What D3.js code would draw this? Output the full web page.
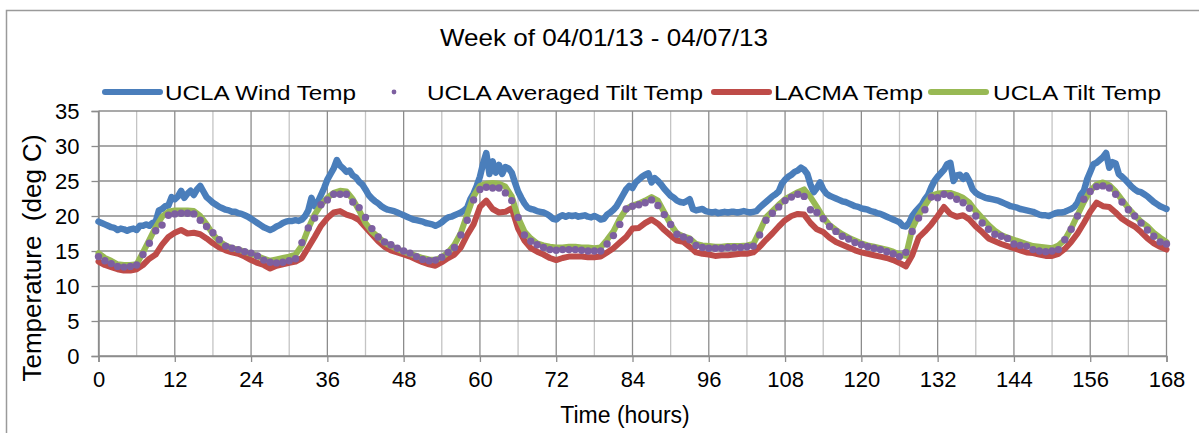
<!DOCTYPE html>
<html><head><meta charset="utf-8">
<script src="https://cdn.jsdelivr.net/npm/d3@7"></script>
<style>
body{margin:0;background:#fff}
svg{display:block}
text{font-family:"Liberation Sans",Arial,Helvetica,sans-serif;fill:#000}
</style>
</head><body>
<svg id="chart" width="1199" height="433"></svg>
<script>
// ---------------- data ----------------
const chartTitle = "Week of 04/01/13 - 04/07/13";
const xTitle = "Time (hours)";
const yTitle = "Temperature  (deg C)";
const seriesNames = ["UCLA Wind Temp", "UCLA Averaged Tilt Temp", "LACMA Temp", "UCLA Tilt Temp"];
const xTicks = [0, 12, 24, 36, 48, 60, 72, 84, 96, 108, 120, 132, 144, 156, 168];
const xMinorTicks = [6, 18, 30, 42, 54, 66, 78, 90, 102, 114, 126, 138, 150, 162];
const yTicks = [0, 5, 10, 15, 20, 25, 30, 35];

// UCLA Wind Temp, every 0.5 h from 0 to 168
const windStepHours = 0.5;
const uclaWindTemp = [
  19.2,19.0,18.8,18.6,18.4,18.3,18.0,18.2,18.1,17.9,18.1,18.2,18.0,18.6,18.6,18.8,18.6,19.0,19.2,20.8,
  21.0,21.4,21.5,22.7,22.4,22.8,23.6,22.6,23.2,23.6,23.0,23.8,24.3,23.5,22.7,22.3,21.9,21.6,21.3,21.1,
  20.9,20.8,20.6,20.6,20.4,20.3,20.1,19.9,19.6,19.3,19.0,18.7,18.4,18.2,18.0,18.2,18.5,18.7,19.0,19.2,
  19.3,19.3,19.4,19.3,19.5,20.0,20.8,22.6,21.4,22.0,23.0,24.0,25.2,26.0,26.8,28.0,27.2,26.8,26.3,26.5,
  25.8,25.5,24.9,24.5,23.8,23.0,22.5,22.1,21.8,21.4,21.1,20.9,20.8,20.7,20.5,20.3,20.1,19.9,19.7,19.5,
  19.4,19.3,19.2,19.0,18.9,18.8,18.6,18.8,19.1,19.5,19.8,19.9,20.1,20.3,20.5,20.8,21.2,22.4,23.2,24.3,
  25.6,27.5,29.0,26.0,27.8,26.2,27.3,26.0,27.0,26.8,26.2,24.8,23.5,22.6,21.8,21.2,21.0,20.9,20.7,20.6,
  20.5,20.3,20.0,19.6,19.5,19.9,20.1,19.9,20.1,20.0,20.1,19.9,20.0,20.1,19.9,19.8,20.0,19.8,19.5,19.6,
  20.2,20.5,20.9,21.4,22.2,23.0,23.8,24.3,24.0,24.8,25.2,25.6,25.9,26.1,24.8,25.4,25.0,24.5,23.9,23.4,
  22.9,22.6,22.2,22.0,21.9,22.1,22.4,21.0,20.8,20.9,21.0,20.7,20.6,20.5,20.6,20.4,20.5,20.6,20.5,20.6,
  20.6,20.5,20.6,20.7,20.6,20.5,20.6,20.7,21.2,21.6,22.0,22.4,22.8,23.1,23.5,24.6,25.2,25.6,25.9,26.3,
  26.5,26.9,26.6,26.0,24.5,23.4,24.0,24.8,23.8,23.2,22.9,22.7,22.5,22.3,22.1,22.0,21.8,21.6,21.4,21.3,
  21.1,21.0,20.9,20.7,20.6,20.4,20.3,20.1,19.9,19.7,19.5,19.3,19.1,18.6,18.5,19.0,20.0,20.6,21.1,21.6,
  22.4,23.0,24.1,25.0,25.6,26.1,26.6,27.4,27.6,25.0,25.8,25.9,25.3,25.8,25.0,23.8,23.3,23.0,22.8,22.6,
  22.5,22.4,22.3,22.2,22.0,21.8,21.6,21.4,21.3,21.2,21.0,20.9,20.8,20.7,20.6,20.4,20.2,20.1,20.1,20.0,
  20.2,20.4,20.5,20.5,20.6,20.8,21.0,21.3,21.9,23.0,23.6,25.2,26.3,27.4,27.6,28.0,28.4,29.0,26.9,27.7,
  27.5,26.0,25.6,25.2,24.7,24.2,23.8,23.5,23.4,23.1,22.8,22.4,22.0,21.7,21.4,21.2,21.0
];

// hourly series, 0 .. 168 h
const hourlyStepHours = 1;
const uclaAvgTiltTemp = [
  14.2,13.6,13.2,12.8,12.7,12.8,13.0,14.5,16.1,17.9,
  18.7,20.1,20.3,20.4,20.4,20.3,19.4,18.5,17.6,16.6,
  15.7,15.4,15.2,14.9,14.7,14.3,13.7,13.4,13.3,13.4,
  13.6,13.9,16.2,18.3,19.7,21.6,22.3,23.1,23.1,23.1,
  22.0,21.2,19.8,18.2,17.0,16.3,15.9,15.4,15.0,14.7,
  14.2,13.8,13.6,13.7,14.1,14.8,15.5,17.3,19.4,22.3,
  23.8,24.1,24.0,24.0,23.3,22.2,19.8,17.3,16.4,15.9,
  15.5,15.2,15.1,15.2,15.2,15.2,15.1,15.0,15.0,15.0,
  16.0,17.2,18.8,21.0,21.4,21.6,21.9,22.3,21.5,20.2,
  18.8,17.4,17.0,16.6,15.8,15.5,15.4,15.4,15.4,15.5,
  15.5,15.5,15.6,15.7,17.3,19.4,20.4,21.3,22.2,22.7,
  23.1,22.8,20.9,20.5,19.6,18.5,17.8,17.1,16.7,16.2,
  15.9,15.6,15.4,15.2,14.9,14.6,14.2,14.8,17.8,19.7,
  20.9,22.7,22.6,23.1,22.9,22.4,21.9,21.1,20.0,19.0,
  18.1,17.4,17.1,16.8,16.0,15.8,15.7,15.2,15.0,14.9,
  15.0,15.2,16.6,18.1,20.0,22.4,23.5,24.2,24.3,24.0,
  23.1,22.0,20.9,20.0,19.0,18.0,17.1,16.3,16.0
];
const lacmaTemp = [
  13.5,13.0,12.7,12.4,12.2,12.2,12.4,13.0,13.9,14.5,
  15.9,17.0,17.6,18.0,17.5,17.6,17.4,16.8,16.1,15.5,
  15.1,14.8,14.6,14.2,13.7,13.3,13.0,12.5,12.9,13.1,
  13.3,13.5,14.0,15.5,17.0,18.6,19.7,20.5,20.7,20.2,
  19.9,19.4,18.4,17.4,16.4,15.6,15.1,14.8,14.5,14.2,
  13.8,13.4,13.1,12.9,13.4,14.0,14.5,15.5,17.3,18.8,
  21.3,22.2,21.0,20.5,20.6,21.1,18.2,16.5,15.4,14.9,
  14.5,14.0,13.7,14.0,14.2,14.2,14.2,14.1,14.1,14.2,
  14.8,15.4,16.2,17.0,18.2,18.3,19.0,19.5,18.9,18.0,
  17.2,16.5,16.3,15.6,14.8,14.6,14.5,14.3,14.4,14.4,
  14.5,14.6,14.6,14.8,15.6,16.6,17.5,18.5,19.4,20.0,
  20.3,20.2,19.0,18.1,17.7,16.9,16.3,15.9,15.5,15.1,
  14.8,14.6,14.4,14.2,14.0,13.7,13.3,12.8,14.4,16.9,
  17.8,18.8,20.0,21.3,20.3,19.9,20.1,19.5,18.5,17.7,
  16.8,16.4,16.0,15.7,15.4,15.1,14.8,14.7,14.5,14.3,
  14.3,14.6,15.3,16.3,17.5,19.0,20.6,21.9,21.4,21.3,
  20.5,19.6,19.0,18.5,17.7,16.8,16.1,15.6,15.2
];
const uclaTiltTemp = [
  14.7,14.0,13.6,13.1,13.0,13.0,13.1,14.8,16.6,18.4,
  19.9,20.6,20.8,20.8,20.8,20.7,20.0,18.8,17.4,16.4,
  15.8,15.4,15.2,14.9,14.6,14.3,13.9,13.6,13.8,14.0,
  14.2,14.5,15.8,18.2,20.2,21.6,22.6,23.3,23.6,23.5,
  22.4,20.8,19.0,17.8,17.0,16.2,15.7,15.3,14.9,14.6,
  14.3,14.0,13.8,13.7,14.1,14.8,15.9,17.6,20.2,22.8,
  24.3,24.6,24.7,24.6,24.2,22.8,19.8,17.8,16.8,16.1,
  15.8,15.6,15.5,15.5,15.6,15.6,15.5,15.5,15.4,15.5,
  16.6,17.8,19.6,21.0,21.5,21.8,22.2,22.7,22.2,20.5,
  18.8,17.5,17.1,16.8,16.0,15.8,15.7,15.6,15.6,15.7,
  15.7,15.7,15.8,16.0,17.8,19.8,20.7,21.6,22.4,22.9,
  23.4,23.8,22.7,21.3,19.8,18.7,18.0,17.4,16.9,16.5,
  16.1,15.8,15.6,15.4,15.2,14.9,14.5,14.3,18.2,20.1,
  21.5,22.9,23.2,23.3,23.3,23.0,22.6,21.9,20.7,19.7,
  18.7,17.9,17.3,16.9,16.6,16.3,16.0,15.7,15.6,15.5,
  15.4,15.8,16.6,18.2,20.1,22.0,23.6,24.5,24.8,24.4,
  23.5,22.3,21.1,20.1,19.2,18.5,17.6,16.9,16.3
];

// ---------------- drawing ----------------
const colors = {wind:"#4a7ebb", avg:"#7d5fa0", lacma:"#be4b48", tilt:"#98b954"};
const gridMajor = "#8c8c8c", gridMinor = "#c4c4c4";

const svg = d3.select("#chart");
const plot = {left: 98.5, right: 1166.5, top: 111, bottom: 356};

const x = d3.scaleLinear().domain([0, 168]).range([plot.left, plot.right]);
const y = d3.scaleLinear().domain([0, 35]).range([plot.bottom, plot.top]);

// outer chart border
svg.append("rect").attr("x", 6.5).attr("y", 10.5).attr("width", 1200).attr("height", 440)
  .attr("fill", "#fff").attr("stroke", "#9a9a9a").attr("stroke-width", 1.5);

// grid
const grid = svg.append("g");
grid.selectAll(".vminor").data(xMinorTicks).join("line")
  .attr("x1", d => x(d)).attr("x2", d => x(d)).attr("y1", plot.top).attr("y2", plot.bottom)
  .attr("stroke", gridMinor).attr("stroke-width", 1.3);
grid.selectAll(".vmajor").data(xTicks).join("line")
  .attr("x1", d => x(d)).attr("x2", d => x(d)).attr("y1", plot.top).attr("y2", plot.bottom)
  .attr("stroke", gridMajor).attr("stroke-width", 1.3);
grid.selectAll(".hmajor").data(yTicks).join("line")
  .attr("x1", plot.left).attr("x2", plot.right).attr("y1", d => y(d)).attr("y2", d => y(d))
  .attr("stroke", gridMajor).attr("stroke-width", 1.3);

// axes
const xAxis = svg.append("g").attr("transform", `translate(0,${plot.bottom})`)
  .call(d3.axisBottom(x).tickValues(xTicks).tickSize(6).tickPadding(9).tickFormat(d3.format("d")));
const yAxis = svg.append("g").attr("transform", `translate(${plot.left},0)`)
  .call(d3.axisLeft(y).tickValues(yTicks).tickSize(7).tickPadding(12).tickFormat(d3.format("d")));
[xAxis, yAxis].forEach(a => {
  a.select(".domain").attr("stroke", gridMajor).attr("stroke-width", 1.5);
  a.selectAll(".tick line").attr("stroke", gridMajor).attr("stroke-width", 1.3);
  a.selectAll(".tick text").style("font-family", '"Liberation Sans",Arial,sans-serif')
    .style("font-size", "22px").attr("fill", "#000");
});
xAxis.selectAll(".tick text").attr("dy", "0.71em");

// series
const windPts = uclaWindTemp.map((v, i) => [i * windStepHours, v]);
const hourPts = arr => arr.map((v, i) => [i * hourlyStepHours, v]);
const line = d3.line().x(d => x(d[0])).y(d => y(d[1]));
const lineStyle = (p, c, w) => p.attr("fill", "none").attr("stroke", c).attr("stroke-width", w)
  .attr("stroke-linejoin", "round").attr("stroke-linecap", "round");

svg.append("path").datum(windPts).attr("d", line).call(lineStyle, colors.wind, 6.5);
svg.append("path").datum(hourPts(lacmaTemp)).attr("d", line).call(lineStyle, colors.lacma, 6);
svg.append("path").datum(hourPts(uclaTiltTemp)).attr("d", line).call(lineStyle, colors.tilt, 6);
svg.append("g").selectAll("circle").data(hourPts(uclaAvgTiltTemp)).join("circle")
  .attr("cx", d => x(d[0])).attr("cy", d => y(d[1])).attr("r", 3.7).attr("fill", colors.avg);

// title
svg.append("text").attr("x", 604).attr("y", 46).attr("text-anchor", "middle")
  .style("font-size", "24px").attr("textLength", 328).attr("lengthAdjust", "spacingAndGlyphs")
  .text(chartTitle);

// legend
const legendY = 92;
const legendItems = [
  {name: seriesNames[0], type: "line", color: colors.wind,  sx: 105, tx: 165, tw: 191},
  {name: seriesNames[1], type: "dot",  color: colors.avg,   sx: 394, tx: 427, tw: 276},
  {name: seriesNames[2], type: "line", color: colors.lacma, sx: 714, tx: 774, tw: 149},
  {name: seriesNames[3], type: "line", color: colors.tilt,  sx: 931, tx: 993, tw: 168}
];
const lg = svg.append("g");
legendItems.forEach(it => {
  if (it.type === "line") {
    lg.append("line").attr("x1", it.sx).attr("x2", it.sx + 55).attr("y1", legendY).attr("y2", legendY)
      .attr("stroke", it.color).attr("stroke-width", 6).attr("stroke-linecap", "round");
  } else {
    lg.append("circle").attr("cx", it.sx).attr("cy", legendY).attr("r", 2.4).attr("fill", it.color);
  }
  lg.append("text").attr("x", it.tx).attr("y", legendY + 8).style("font-size", "21px")
    .attr("textLength", it.tw).attr("lengthAdjust", "spacingAndGlyphs").text(it.name);
});

// axis titles
svg.append("text").attr("x", 625).attr("y", 423).attr("text-anchor", "middle")
  .style("font-size", "23px").text(xTitle);
svg.append("text").attr("transform", "translate(41,258) rotate(-90)").attr("text-anchor", "middle")
  .style("font-size", "26px").style("white-space", "pre").text(yTitle);
</script>
</body></html>
